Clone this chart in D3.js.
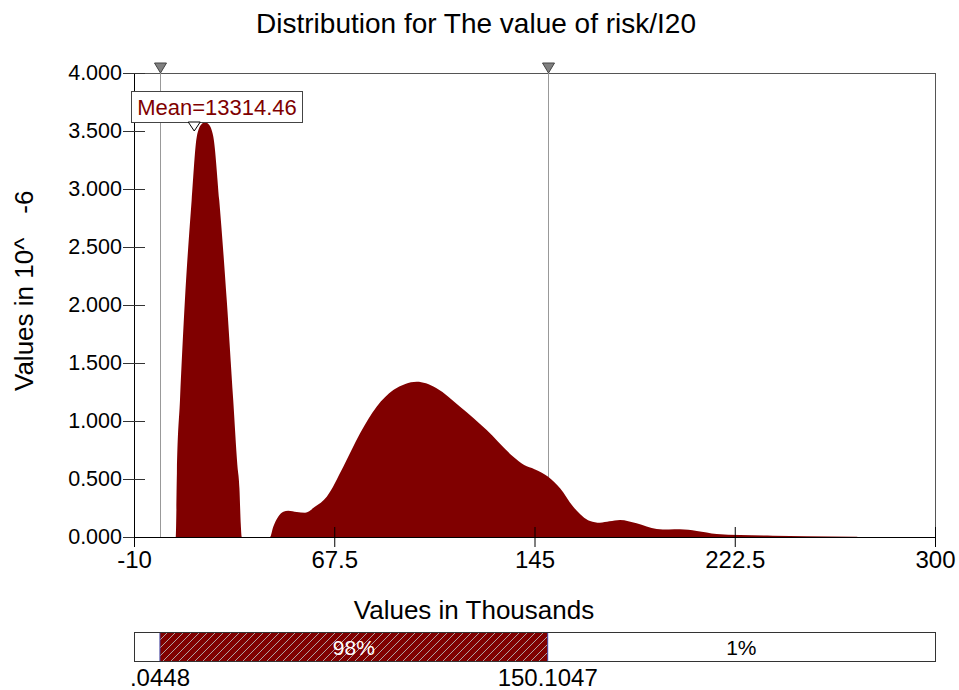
<!DOCTYPE html>
<html>
<head>
<meta charset="utf-8">
<script src="https://cdn.jsdelivr.net/npm/d3@7"></script>
<style>
  body { margin: 0; background: #fff; }
  text { font-family: "Liberation Sans", Arial, sans-serif; }
</style>
</head>
<body>
<svg id="chart" width="959" height="690"></svg>
<script>
// ---- data (values in thousands, density in 10^-6) ----
const densityX = [0.0448, 6.2, 6.6, 7.8, 9.7, 12.3, 14.3, 16.2, 17.5, 18.8, 20.7, 23.0, 25.9, 28.4, 30.0, 30.8, 31.3, 31.7,
  42.6, 43.9, 45.8, 47.8, 49.7, 53.0, 56.2, 60.0, 64.6, 71.0, 77.5, 83.9, 90.35, 95.0, 99.4, 103.0, 107.1, 116.2, 126.5,
  136.8, 141.0, 145.0, 150.3, 154.9, 160.0, 166.5, 170.3, 174.0, 178.1, 184.5, 192.3, 197.0, 201.3, 207.8, 215.5, 224.5,
  237.3, 250.3, 269.7, 270.0];
const densityY = [0, 0, 0.55, 1.18, 2.04, 2.9, 3.45, 3.56, 3.575, 3.56, 3.45, 2.9, 2.04, 1.18, 0.62, 0.42, 0.12, 0,
  0, 0.089, 0.175, 0.218, 0.227, 0.215, 0.21, 0.26, 0.348, 0.606, 0.894, 1.123, 1.267, 1.32, 1.339, 1.325, 1.282, 1.123, 0.922,
  0.692, 0.62, 0.585, 0.52, 0.42, 0.261, 0.138, 0.123, 0.135, 0.147, 0.118, 0.069, 0.064, 0.066, 0.052, 0.026, 0.017,
  0.011, 0.006, 0.002, 0];
const xTicks = [-10, 67.5, 145, 222.5, 300];
const xTickLabels = ["-10", "67.5", "145", "222.5", "300"];
const yTicks = [0, 0.5, 1, 1.5, 2, 2.5, 3, 3.5, 4];
const markers = [0.0448, 150.1047];
const markerLabels = [".0448", "150.1047"];
const meanValue = 13.31446;
const meanLabel = "Mean=13314.46";
const bandLabels = ["98%", "1%"];
const titleText = "Distribution for The value of risk/I20";
const xLabelText = "Values in Thousands";
const yLabelMain = "Values in 10^";
const yLabelExp = "-6";

// ---- layout ----
const svg = d3.select("#chart");
const red = "#800000";
const x = d3.scaleLinear().domain([-10, 300]).range([134, 935]);
const y = d3.scaleLinear().domain([0, 4]).range([537, 73]);

// pattern for hatching
const defs = svg.append("defs");
const pat = defs.append("pattern").attr("id", "hatch").attr("patternUnits", "userSpaceOnUse")
  .attr("width", 8).attr("height", 8);
pat.append("rect").attr("width", 8).attr("height", 8).attr("fill", red);
pat.append("path").attr("d", "M-2,2 L2,-2 M0,8 L8,0 M6,10 L10,6").attr("stroke", "#b0a0a0").attr("stroke-width", 1);

// title
svg.append("text").attr("x", 476).attr("y", 33).attr("text-anchor", "middle")
  .attr("font-size", 28).text(titleText);

// frame (top & right)
svg.append("path").attr("d", `M${x(-10)},${y(4)}H${x(300)}V${y(0)}`)
  .attr("fill", "none").attr("stroke", "#555").attr("stroke-width", 1).attr("shape-rendering", "crispEdges");

// marker lines
svg.selectAll(".mline").data(markers).join("line")
  .attr("x1", d => Math.round(x(d)) + 0.5).attr("x2", d => Math.round(x(d)) + 0.5)
  .attr("y1", y(4)).attr("y2", y(0))
  .attr("stroke", "#999").attr("stroke-width", 1);

// density area
const area = d3.area()
  .x((d, i) => x(densityX[i]))
  .y0(y(0))
  .y1((d, i) => y(densityY[i]))
  .curve(d3.curveMonotoneX);
svg.append("path").datum(densityY).attr("d", area).attr("fill", red);

// axes
const yAxis = d3.axisLeft(y).tickValues(yTicks).tickFormat(d3.format(".3f"))
  .tickSizeInner(11).tickSizeOuter(0).tickPadding(1);
const gy = svg.append("g").attr("transform", `translate(${x(-10)},0)`).call(yAxis);
gy.selectAll(".tick line").attr("x1", 11).attr("stroke", "#333");
gy.select(".domain").attr("stroke", "#000");
gy.selectAll("text").attr("font-size", 21.5).attr("font-family", "'Liberation Sans', Arial, sans-serif").attr("fill", "#000");

const xAxis = d3.axisBottom(x).tickValues(xTicks).tickFormat((d, i) => xTickLabels[i])
  .tickSizeInner(10).tickSizeOuter(0).tickPadding(4);
const gx = svg.append("g").attr("transform", `translate(0,${y(0)})`).call(xAxis);
gx.selectAll(".tick line").attr("y1", -10).attr("stroke", "#000");
gx.select(".domain").attr("stroke", "#000");
gx.selectAll("text").attr("font-size", 24).attr("font-family", "'Liberation Sans', Arial, sans-serif").attr("fill", "#000");

// marker triangles at top
svg.selectAll(".mtri").data(markers).join("path")
  .attr("d", d => { const cx = Math.round(x(d)) + 0.5; return `M${cx - 6},63 L${cx + 6},63 L${cx},73 Z`; })
  .attr("fill", "#808080").attr("stroke", "#444").attr("stroke-width", 1);

// mean label box
const mx = x(meanValue);
svg.append("rect").attr("x", 131.5).attr("y", 91.5).attr("width", 171).attr("height", 31)
  .attr("fill", "#fff").attr("stroke", "#444").attr("stroke-width", 1);
svg.append("text").attr("x", 217).attr("y", 115).attr("text-anchor", "middle")
  .attr("font-size", 22).attr("fill", red).text(meanLabel);
svg.append("path").attr("d", `M${mx - 6},122 L${mx + 6},122 L${mx},131 Z`)
  .attr("fill", "#fff").attr("stroke", "#000").attr("stroke-width", 1);

// axis titles
svg.append("text").attr("x", 474).attr("y", 619).attr("text-anchor", "middle")
  .attr("font-size", 26).text(xLabelText);
const yl = svg.append("text").attr("transform", `translate(33,391) rotate(-90)`)
  .attr("text-anchor", "start").attr("font-size", 26);
yl.append("tspan").text(yLabelMain);
yl.append("tspan").attr("dx", 24).text(yLabelExp);

// bottom range bar
const barTop = 632, barH = 29;
svg.append("rect").attr("x", x(-10) + 0.5).attr("y", barTop + 0.5).attr("width", x(300) - x(-10)).attr("height", barH)
  .attr("fill", "#fff").attr("stroke", "#333").attr("stroke-width", 1);
svg.append("rect").attr("x", x(markers[0])).attr("y", barTop + 1).attr("width", x(markers[1]) - x(markers[0]))
  .attr("height", barH - 1).attr("fill", "url(#hatch)");
svg.selectAll(".bline").data(markers).join("line")
  .attr("x1", d => x(d)).attr("x2", d => x(d)).attr("y1", barTop + 1).attr("y2", barTop + barH)
  .attr("stroke", "#4040a0").attr("stroke-width", 1);
svg.append("text").attr("x", (x(markers[0]) + x(markers[1])) / 2).attr("y", 655).attr("text-anchor", "middle")
  .attr("font-size", 21).attr("fill", "#fff").text(bandLabels[0]);
svg.append("text").attr("x", (x(markers[1]) + x(300)) / 2).attr("y", 655).attr("text-anchor", "middle")
  .attr("font-size", 21).attr("fill", "#000").text(bandLabels[1]);
svg.selectAll(".mlab").data(markers).join("text")
  .attr("x", d => x(d)).attr("y", 686).attr("text-anchor", "middle")
  .attr("font-size", 24).attr("fill", "#000").text((d, i) => markerLabels[i]);
</script>
</body>
</html>
